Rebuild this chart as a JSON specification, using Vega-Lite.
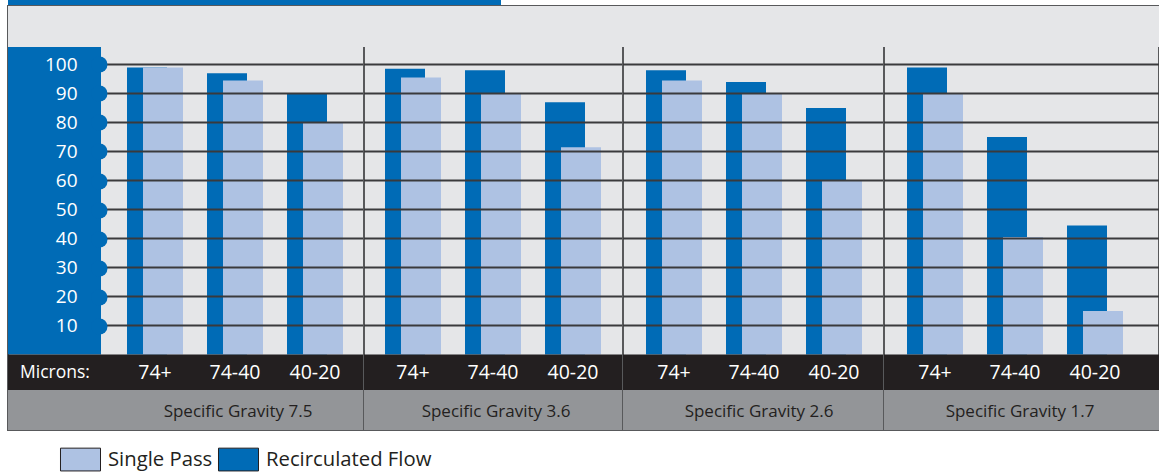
{
  "$schema": "https://vega.github.io/schema/vega-lite/v6.json",
  "padding": {"left": 6, "top": 0, "right": 0, "bottom": 0},
  "background": "white",
  "config": {
    "view": {"stroke": null},
    "font": "Open Sans",
    "text": {"font": "Open Sans"},
    "legend": {"labelFont": "Open Sans"}
  },
  "datasets": {
    "bars": [
      {"gravity": "7.5", "micron": "74+", "series": "Recirculated Flow", "value": 99},
      {"gravity": "7.5", "micron": "74+", "series": "Single Pass", "value": 99},
      {"gravity": "7.5", "micron": "74-40", "series": "Recirculated Flow", "value": 97},
      {"gravity": "7.5", "micron": "74-40", "series": "Single Pass", "value": 94.5},
      {"gravity": "7.5", "micron": "40-20", "series": "Recirculated Flow", "value": 90},
      {"gravity": "7.5", "micron": "40-20", "series": "Single Pass", "value": 80},
      {"gravity": "3.6", "micron": "74+", "series": "Recirculated Flow", "value": 98.5},
      {"gravity": "3.6", "micron": "74+", "series": "Single Pass", "value": 95.5},
      {"gravity": "3.6", "micron": "74-40", "series": "Recirculated Flow", "value": 98},
      {"gravity": "3.6", "micron": "74-40", "series": "Single Pass", "value": 90},
      {"gravity": "3.6", "micron": "40-20", "series": "Recirculated Flow", "value": 87},
      {"gravity": "3.6", "micron": "40-20", "series": "Single Pass", "value": 71.5},
      {"gravity": "2.6", "micron": "74+", "series": "Recirculated Flow", "value": 98},
      {"gravity": "2.6", "micron": "74+", "series": "Single Pass", "value": 94.5},
      {"gravity": "2.6", "micron": "74-40", "series": "Recirculated Flow", "value": 94},
      {"gravity": "2.6", "micron": "74-40", "series": "Single Pass", "value": 90},
      {"gravity": "2.6", "micron": "40-20", "series": "Recirculated Flow", "value": 85},
      {"gravity": "2.6", "micron": "40-20", "series": "Single Pass", "value": 60},
      {"gravity": "1.7", "micron": "74+", "series": "Recirculated Flow", "value": 99},
      {"gravity": "1.7", "micron": "74+", "series": "Single Pass", "value": 90},
      {"gravity": "1.7", "micron": "74-40", "series": "Recirculated Flow", "value": 75},
      {"gravity": "1.7", "micron": "74-40", "series": "Single Pass", "value": 40.5},
      {"gravity": "1.7", "micron": "40-20", "series": "Recirculated Flow", "value": 44.5},
      {"gravity": "1.7", "micron": "40-20", "series": "Single Pass", "value": 15}
    ],
    "ticks": [{"v": 10}, {"v": 20}, {"v": 30}, {"v": 40}, {"v": 50}, {"v": 60}, {"v": 70}, {"v": 80}, {"v": 90}, {"v": 100}],
    "groups": [
      {"gravity": "7.5", "label": "Specific Gravity 7.5"},
      {"gravity": "3.6", "label": "Specific Gravity 3.6"},
      {"gravity": "2.6", "label": "Specific Gravity 2.6"},
      {"gravity": "1.7", "label": "Specific Gravity 1.7"}
    ]
  },
  "spacing": 0,
  "bounds": "flush",
  "vconcat": [
    {
      "width": 493, "height": 6,
      "view": {"fill": "#006bb6", "stroke": null},
      "data": {"values": [{}]},
      "mark": {"type": "point", "opacity": 0},
      "encoding": {}
    },
    {
      "spacing": 0,
      "bounds": "flush",
      "resolve": {"scale": {"x": "independent", "y": "independent"}},
      "hconcat": [
        {
          "width": 356, "height": 424,
          "view": {"fill": "#e5e6e8", "stroke": "#58595b", "strokeWidth": 2},
          "layer": [
            {
              "data": {"name": "bars"},
              "transform": [{"filter": "datum.gravity == '7.5' && datum.series == 'Recirculated Flow'"}],
              "mark": {"type": "bar", "width": 40, "xOffset": -8},
              "encoding": {
                "x": {"field": "micron", "type": "nominal", "axis": null,
                      "scale": {"type": "band", "domain": ["74+", "74-40", "40-20"], "range": [97, 357], "paddingInner": 0, "paddingOuter": 0.125}},
                "y": {"field": "value", "type": "quantitative",
                      "scale": {"domain": [-26.03, 120.17], "nice": false, "zero": false},
                      "axis": {"values": [10, 20, 30, 40, 50, 60, 70, 80, 90, 100], "orient": "left", "offset": -91,
                               "domain": false, "grid": false, "ticks": true, "tickSize": 0.5, "tickWidth": 16, "tickCap": "round",
                               "tickColor": "#006bb6", "labelColor": "white", "labelFont": "Open Sans", "labelFontSize": 19,
                               "labelPadding": 21.5, "title": null, "zindex": 1}},
                "color": {"field": "series", "type": "nominal",
                          "scale": {"domain": ["Single Pass", "Recirculated Flow"], "range": ["#aec2e3", "#006bb6"]},
                          "legend": {"orient": "none", "legendX": 60, "legendY": 447, "direction": "horizontal", "title": null,
                                     "symbolType": "M-1.667,-0.95H1.667V0.95H-1.667Z", "symbolSize": 576,
                                     "symbolStrokeColor": "#231f20", "symbolStrokeWidth": 1, "symbolOpacity": 1,
                                     "labelFont": "Open Sans", "labelFontSize": 20.3, "labelColor": "#231f20",
                                     "labelLimit": 400, "labelOffset": 15, "columnPadding": 3, "padding": 0}}
              }
            },
            {
              "data": {"name": "bars"},
              "transform": [{"filter": "datum.gravity == '7.5' && datum.series == 'Single Pass'"}],
              "mark": {"type": "bar", "width": 40, "xOffset": 8},
              "encoding": {
                "x": {"field": "micron", "type": "nominal", "axis": null},
                "y": {"field": "value", "type": "quantitative"},
                "color": {"field": "series", "type": "nominal"}
              }
            },
            {
              "data": {"name": "ticks"},
              "mark": {"type": "rule", "stroke": "#3a3a3c", "strokeWidth": 2},
              "encoding": {
                "y": {"field": "v", "type": "quantitative"},
                "x": {"value": 0}, "x2": {"value": "width"}
              }
            },
            {
              "data": {"values": [{}]},
              "mark": {"type": "rect", "fill": "#006bb6"},
              "encoding": {
                "y": {"datum": 107.4, "type": "quantitative"}, "y2": {"datum": 0},
                "x": {"value": 0}, "x2": {"value": 93}
              }
            },
            {
              "data": {"values": [{}]},
              "mark": {"type": "rect", "fill": "#231f20"},
              "encoding": {
                "y": {"datum": 0, "type": "quantitative"}, "y2": {"datum": -12.24},
                "x": {"value": 0}, "x2": {"value": "width"}
              }
            },
            {
              "data": {"values": [{}]},
              "mark": {"type": "rect", "fill": "#939598"},
              "encoding": {
                "y": {"datum": -12.24, "type": "quantitative"}, "y2": {"datum": -26.03},
                "x": {"value": 0}, "x2": {"value": "width"}
              }
            },
            {
              "data": {"name": "bars"},
              "transform": [{"filter": "datum.gravity == '7.5' && datum.series == 'Single Pass'"}],
              "mark": {"type": "text", "color": "white", "fontSize": 19.5, "baseline": "alphabetic", "align": "center"},
              "encoding": {
                "x": {"field": "micron", "type": "nominal", "axis": null},
                "y": {"datum": -8.45, "type": "quantitative"},
                "text": {"field": "micron"}
              }
            },
            {
              "data": {"values": [{"t": "Microns:"}]},
              "mark": {"type": "text", "color": "white", "fontSize": 17.5, "baseline": "alphabetic", "align": "center", "dx": -100},
              "encoding": {
                "x": {"datum": "74+", "type": "nominal", "axis": null},
                "y": {"datum": -8.2, "type": "quantitative"},
                "text": {"field": "t"}
              }
            },
            {
              "data": {"name": "groups"},
              "transform": [{"filter": "datum.gravity == '7.5'"}],
              "mark": {"type": "text", "color": "#231f20", "fontSize": 17, "baseline": "alphabetic", "align": "center", "dx": 3},
              "encoding": {
                "x": {"datum": "74-40", "type": "nominal", "axis": null},
                "y": {"datum": -21.7, "type": "quantitative"},
                "text": {"field": "label"}
              }
            }
          ]
        },
        {
          "width": 259, "height": 424,
          "view": {"fill": "#e5e6e8", "stroke": "#58595b", "strokeWidth": 2},
          "layer": [
            {
              "data": {"name": "bars"},
              "transform": [{"filter": "datum.gravity == '3.6' && datum.series == 'Recirculated Flow'"}],
              "mark": {"type": "bar", "width": 40, "xOffset": -8},
              "encoding": {
                "x": {"field": "micron", "type": "nominal", "axis": null,
                      "scale": {"type": "band", "domain": ["74+", "74-40", "40-20"], "range": [-1, 259], "paddingInner": 0, "paddingOuter": 0.125}},
                "y": {"field": "value", "type": "quantitative", "axis": null,
                      "scale": {"domain": [-26.03, 120.17], "nice": false, "zero": false}},
                "color": {"field": "series", "type": "nominal"}
              }
            },
            {
              "data": {"name": "bars"},
              "transform": [{"filter": "datum.gravity == '3.6' && datum.series == 'Single Pass'"}],
              "mark": {"type": "bar", "width": 40, "xOffset": 8},
              "encoding": {
                "x": {"field": "micron", "type": "nominal", "axis": null},
                "y": {"field": "value", "type": "quantitative", "axis": null},
                "color": {"field": "series", "type": "nominal"}
              }
            },
            {
              "data": {"name": "ticks"},
              "mark": {"type": "rule", "stroke": "#3a3a3c", "strokeWidth": 2},
              "encoding": {
                "y": {"field": "v", "type": "quantitative", "axis": null},
                "x": {"value": 0}, "x2": {"value": "width"}
              }
            },
            {
              "data": {"values": [{}]},
              "mark": {"type": "rect", "fill": "#231f20"},
              "encoding": {
                "y": {"datum": 0, "type": "quantitative", "axis": null}, "y2": {"datum": -12.24},
                "x": {"value": 0}, "x2": {"value": "width"}
              }
            },
            {
              "data": {"values": [{}]},
              "mark": {"type": "rect", "fill": "#939598"},
              "encoding": {
                "y": {"datum": -12.24, "type": "quantitative", "axis": null}, "y2": {"datum": -26.03},
                "x": {"value": 0}, "x2": {"value": "width"}
              }
            },
            {
              "data": {"name": "bars"},
              "transform": [{"filter": "datum.gravity == '3.6' && datum.series == 'Single Pass'"}],
              "mark": {"type": "text", "color": "white", "fontSize": 19.5, "baseline": "alphabetic", "align": "center"},
              "encoding": {
                "x": {"field": "micron", "type": "nominal", "axis": null},
                "y": {"datum": -8.45, "type": "quantitative", "axis": null},
                "text": {"field": "micron"}
              }
            },
            {
              "data": {"name": "groups"},
              "transform": [{"filter": "datum.gravity == '3.6'"}],
              "mark": {"type": "text", "color": "#231f20", "fontSize": 17, "baseline": "alphabetic", "align": "center", "dx": 3},
              "encoding": {
                "x": {"datum": "74-40", "type": "nominal", "axis": null},
                "y": {"datum": -21.7, "type": "quantitative", "axis": null},
                "text": {"field": "label"}
              }
            }
          ]
        },
        {
          "width": 261, "height": 424,
          "view": {"fill": "#e5e6e8", "stroke": "#58595b", "strokeWidth": 2},
          "layer": [
            {
              "data": {"name": "bars"},
              "transform": [{"filter": "datum.gravity == '2.6' && datum.series == 'Recirculated Flow'"}],
              "mark": {"type": "bar", "width": 40, "xOffset": -8},
              "encoding": {
                "x": {"field": "micron", "type": "nominal", "axis": null,
                      "scale": {"type": "band", "domain": ["74+", "74-40", "40-20"], "range": [1, 261], "paddingInner": 0, "paddingOuter": 0.125}},
                "y": {"field": "value", "type": "quantitative", "axis": null,
                      "scale": {"domain": [-26.03, 120.17], "nice": false, "zero": false}},
                "color": {"field": "series", "type": "nominal"}
              }
            },
            {
              "data": {"name": "bars"},
              "transform": [{"filter": "datum.gravity == '2.6' && datum.series == 'Single Pass'"}],
              "mark": {"type": "bar", "width": 40, "xOffset": 8},
              "encoding": {
                "x": {"field": "micron", "type": "nominal", "axis": null},
                "y": {"field": "value", "type": "quantitative", "axis": null},
                "color": {"field": "series", "type": "nominal"}
              }
            },
            {
              "data": {"name": "ticks"},
              "mark": {"type": "rule", "stroke": "#3a3a3c", "strokeWidth": 2},
              "encoding": {
                "y": {"field": "v", "type": "quantitative", "axis": null},
                "x": {"value": 0}, "x2": {"value": "width"}
              }
            },
            {
              "data": {"values": [{}]},
              "mark": {"type": "rect", "fill": "#231f20"},
              "encoding": {
                "y": {"datum": 0, "type": "quantitative", "axis": null}, "y2": {"datum": -12.24},
                "x": {"value": 0}, "x2": {"value": "width"}
              }
            },
            {
              "data": {"values": [{}]},
              "mark": {"type": "rect", "fill": "#939598"},
              "encoding": {
                "y": {"datum": -12.24, "type": "quantitative", "axis": null}, "y2": {"datum": -26.03},
                "x": {"value": 0}, "x2": {"value": "width"}
              }
            },
            {
              "data": {"name": "bars"},
              "transform": [{"filter": "datum.gravity == '2.6' && datum.series == 'Single Pass'"}],
              "mark": {"type": "text", "color": "white", "fontSize": 19.5, "baseline": "alphabetic", "align": "center"},
              "encoding": {
                "x": {"field": "micron", "type": "nominal", "axis": null},
                "y": {"datum": -8.45, "type": "quantitative", "axis": null},
                "text": {"field": "micron"}
              }
            },
            {
              "data": {"name": "groups"},
              "transform": [{"filter": "datum.gravity == '2.6'"}],
              "mark": {"type": "text", "color": "#231f20", "fontSize": 17, "baseline": "alphabetic", "align": "center", "dx": 5},
              "encoding": {
                "x": {"datum": "74-40", "type": "nominal", "axis": null},
                "y": {"datum": -21.7, "type": "quantitative", "axis": null},
                "text": {"field": "label"}
              }
            }
          ]
        },
        {
          "width": 275, "height": 424,
          "view": {"fill": "#e5e6e8", "stroke": "#58595b", "strokeWidth": 2},
          "layer": [
            {
              "data": {"name": "bars"},
              "transform": [{"filter": "datum.gravity == '1.7' && datum.series == 'Recirculated Flow'"}],
              "mark": {"type": "bar", "width": 40, "xOffset": -8},
              "encoding": {
                "x": {"field": "micron", "type": "nominal", "axis": null,
                      "scale": {"type": "band", "domain": ["74+", "74-40", "40-20"], "range": [1, 261], "paddingInner": 0, "paddingOuter": 0.125}},
                "y": {"field": "value", "type": "quantitative", "axis": null,
                      "scale": {"domain": [-26.03, 120.17], "nice": false, "zero": false}},
                "color": {"field": "series", "type": "nominal"}
              }
            },
            {
              "data": {"name": "bars"},
              "transform": [{"filter": "datum.gravity == '1.7' && datum.series == 'Single Pass'"}],
              "mark": {"type": "bar", "width": 40, "xOffset": 8},
              "encoding": {
                "x": {"field": "micron", "type": "nominal", "axis": null},
                "y": {"field": "value", "type": "quantitative", "axis": null},
                "color": {"field": "series", "type": "nominal"}
              }
            },
            {
              "data": {"name": "ticks"},
              "mark": {"type": "rule", "stroke": "#3a3a3c", "strokeWidth": 2},
              "encoding": {
                "y": {"field": "v", "type": "quantitative", "axis": null},
                "x": {"value": 0}, "x2": {"value": "width"}
              }
            },
            {
              "data": {"values": [{}]},
              "mark": {"type": "rect", "fill": "#231f20"},
              "encoding": {
                "y": {"datum": 0, "type": "quantitative", "axis": null}, "y2": {"datum": -12.24},
                "x": {"value": 0}, "x2": {"value": "width"}
              }
            },
            {
              "data": {"values": [{}]},
              "mark": {"type": "rect", "fill": "#939598"},
              "encoding": {
                "y": {"datum": -12.24, "type": "quantitative", "axis": null}, "y2": {"datum": -26.03},
                "x": {"value": 0}, "x2": {"value": "width"}
              }
            },
            {
              "data": {"name": "bars"},
              "transform": [{"filter": "datum.gravity == '1.7' && datum.series == 'Single Pass'"}],
              "mark": {"type": "text", "color": "white", "fontSize": 19.5, "baseline": "alphabetic", "align": "center"},
              "encoding": {
                "x": {"field": "micron", "type": "nominal", "axis": null},
                "y": {"datum": -8.45, "type": "quantitative", "axis": null},
                "text": {"field": "micron"}
              }
            },
            {
              "data": {"name": "groups"},
              "transform": [{"filter": "datum.gravity == '1.7'"}],
              "mark": {"type": "text", "color": "#231f20", "fontSize": 17, "baseline": "alphabetic", "align": "center", "dx": 5},
              "encoding": {
                "x": {"datum": "74-40", "type": "nominal", "axis": null},
                "y": {"datum": -21.7, "type": "quantitative", "axis": null},
                "text": {"field": "label"}
              }
            }
          ]
        }
      ]
    },
    {
      "width": 1151, "height": 41,
      "view": {"fill": "#e5e6e8", "stroke": null},
      "data": {"values": [{}]},
      "mark": {"type": "point", "opacity": 0},
      "encoding": {}
    }
  ]
}
